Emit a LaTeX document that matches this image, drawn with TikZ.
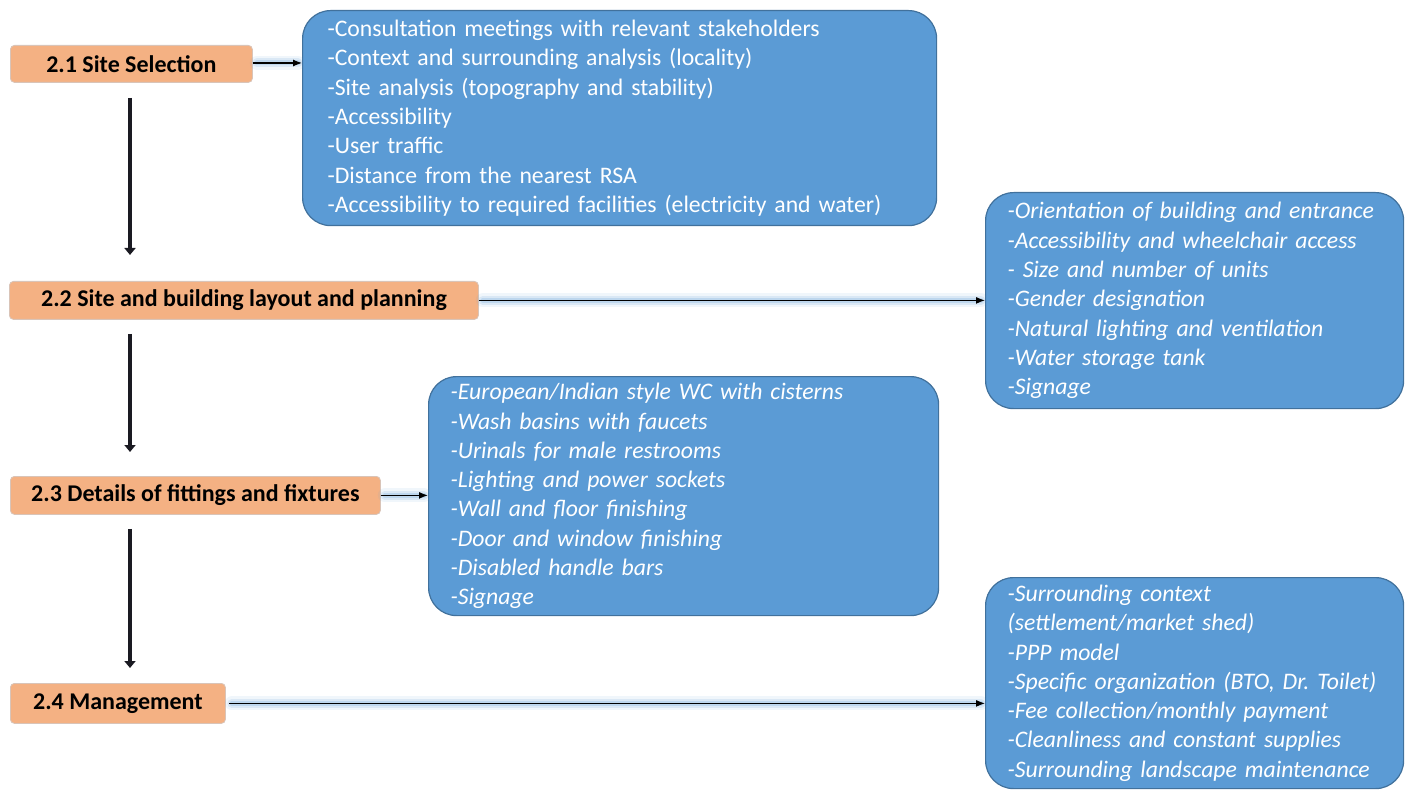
\documentclass[tikz,border=0pt]{standalone}
\usepackage{fontspec}
\setmainfont{Carlito}
\usetikzlibrary{arrows.meta}
\definecolor{bluefill}{HTML}{5B9BD5}
\definecolor{blueline}{HTML}{41719C}
\definecolor{orfill}{HTML}{F4B183}
\definecolor{orline}{HTML}{D9C4B8}
\definecolor{arrowdark}{HTML}{1A1A22}
\frenchspacing
\hyphenpenalty=10000
\exhyphenpenalty=10000
\begin{document}
\begin{tikzpicture}[x=1pt,y=-1pt,
  stepbox/.style={draw=orline, line width=0.8pt, fill=orfill, rounded corners=4pt,
     font=\fontsize{24}{28}\selectfont\bfseries, text=black, inner sep=0pt, anchor=north west},
  infobox/.style={draw=blueline, line width=1.2pt, fill=bluefill, rounded corners=28pt,
     text=white, align=left, inner xsep=22pt, inner ysep=0pt, anchor=north west,
     font=\fontsize{23.7}{29.3}\selectfont},
  glowa/.style={draw=bluefill, line width=14pt, opacity=0.09, line cap=round},
  glowb/.style={draw=bluefill, line width=9pt, opacity=0.15, line cap=round},
  glowc/.style={draw=bluefill, line width=5pt, opacity=0.22, line cap=round},
  harrow/.style={draw=black, line width=1.2pt, -{Latex[length=9pt,width=7pt]}},
  varrow/.style={draw=arrowdark, line width=4.5pt, -{Triangle[length=7pt,width=11pt]}}]
\useasboundingbox (0,0) rectangle (1410,791);

% step boxes
\node[stepbox, minimum width=242pt, minimum height=37pt] (s1) at (10,45) {2.1 Site Selection};
\node[stepbox, minimum width=469pt, minimum height=38pt] (s2) at (9,281) {2.2 Site and building layout and planning};
\node[stepbox, minimum width=370pt, minimum height=38pt] (s3) at (10,476) {2.3 Details of fittings and fixtures};
\node[stepbox, minimum width=215pt, minimum height=40pt] (s4) at (10,683) {2.4 Management};

% info boxes
\node[infobox, inner xsep=25pt, text width=584pt, minimum height=215pt] (b1) at (302,10) {%
-Consultation meetings with relevant stakeholders\\
-Context and surrounding analysis (locality)\\
-Site analysis (topography and stability)\\
-Accessibility\\
-User traffic\\
-Distance from the nearest RSA\\
-Accessibility to required facilities (electricity and water)};

\node[infobox, text width=374pt, minimum height=216pt, font=\fontsize{23.7}{29.3}\selectfont\itshape] (b2) at (985,192) {%
-Orientation of building and entrance\\
-Accessibility and wheelchair access\\
- Size and number of units\\
-Gender designation\\
-Natural lighting and ventilation\\
-Water storage tank\\
-Signage};

\node[infobox, text width=466pt, minimum height=239pt, font=\fontsize{23.7}{29.3}\selectfont\itshape] (b3) at (428,376) {%
-European/Indian style WC with cisterns\\
-Wash basins with faucets\\
-Urinals for male restrooms\\
-Lighting and power sockets\\
-Wall and floor finishing\\
-Door and window finishing\\
-Disabled handle bars\\
-Signage};

\node[infobox, text width=374pt, minimum height=211pt, font=\fontsize{23.7}{29.3}\selectfont\itshape] (b4) at (985,577) {%
-Surrounding context\\
(settlement/market shed)\\
-PPP model\\
-Specific organization (BTO, Dr. Toilet)\\
-Fee collection/monthly payment\\
-Cleanliness and constant supplies\\
-Surrounding landscape maintenance};

% glow under horizontal connectors
\foreach \g in {glowa,glowb,glowc}{
  \path[\g] ([xshift=4pt]s1.east |- 0,63) -- ([xshift=-4pt]b1.west |- 0,63);
  \path[\g] ([xshift=4pt]s2.east) -- ([xshift=-4pt]b2.west |- s2.east);
  \path[\g] ([xshift=4pt]s3.east) -- ([xshift=-4pt]b3.west |- s3.east);
  \path[\g] ([xshift=6pt]s4.east) -- ([xshift=-4pt]b4.west |- s4.east);
}
% horizontal connectors
\draw[harrow] (s1.east |- 0,63) -- (b1.west |- 0,63);
\draw[harrow] (s2.east) -- (b2.west |- s2.east);
\draw[harrow] (s3.east) -- (b3.west |- s3.east);
\draw[harrow] ([xshift=3pt]s4.east) -- (b4.west |- s4.east);

% vertical connectors
\draw[varrow, shorten <=15pt, shorten >=26pt] (s1.south -| 130,0) -- (s2.north -| 130,0);
\draw[varrow, shorten <=14pt, shorten >=24pt] (s2.south -| 130,0) -- (s3.north -| 130,0);
\draw[varrow, shorten <=14pt, shorten >=15pt] (s3.south -| 130,0) -- (s4.north -| 130,0);
\end{tikzpicture}
\end{document}
